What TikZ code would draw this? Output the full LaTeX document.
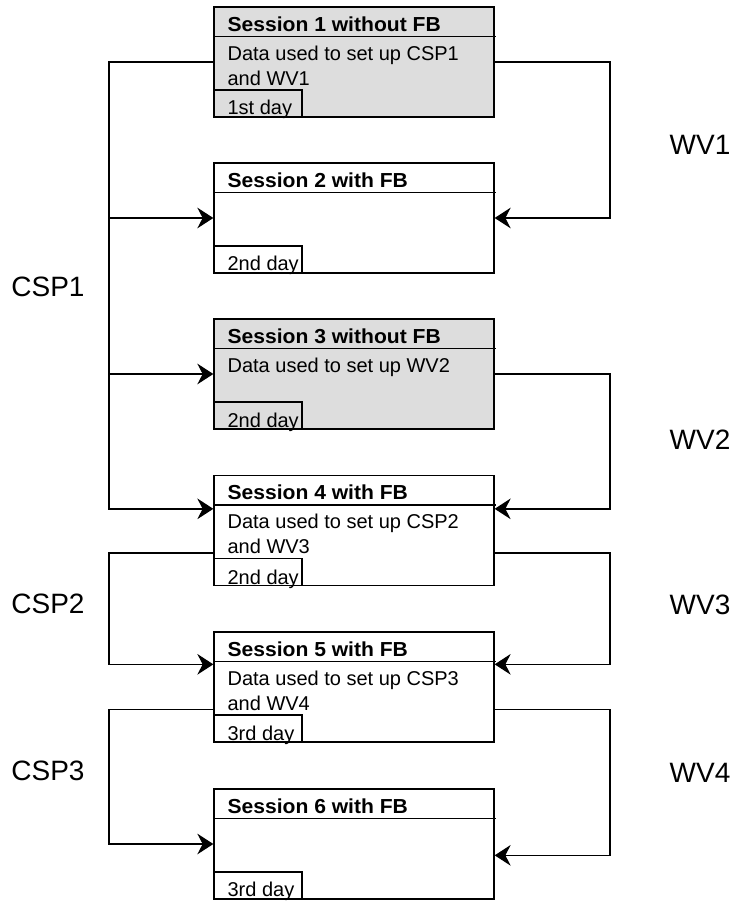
\documentclass[tikz,border=0pt]{standalone}
\usepackage{fontspec}
\setmainfont{Liberation Sans}
\usepackage{xcolor}
\usepackage{tikz}
\usetikzlibrary{arrows.meta}

\definecolor{sessgray}{RGB}{221,221,221}

\tikzset{
    sess/.style={draw=black, line width=1pt, minimum width=210pt, minimum height=82.5pt},
    txt/.style={inner sep=0pt, anchor=base west, font=\fontsize{15}{18.75}\selectfont, align=left},
    ttl/.style={txt, font=\fontsize{15.2}{18.75}\selectfont\bfseries\addfontfeature{FakeStretch=1.04}},
    daybox/.style={draw=black, line width=1pt, anchor=south west, inner sep=0pt,
        minimum width=66pt, minimum height=20.25pt},
    lbl/.style={font=\fontsize{21}{25}\selectfont},
    conn/.style={line width=1pt, -{Stealth[length=12pt, width=15.5pt, inset=4pt]}},
}

\begin{document}
\begin{tikzpicture}[x=0.75pt, y=-0.75pt]
    \useasboundingbox (0,0) rectangle (739,902);

    % sessions
    \node[sess, fill=sessgray] (s1) at (354,62) {};
    \node[sess] (s2) at (354,218) {};
    \node[sess, fill=sessgray] (s3) at (354,374) {};
    \node[sess] (s4) at (354,530.5) {};
    \node[sess] (s5) at (354,687) {};
    \node[sess] (s6) at (354,844) {};

    \node[ttl] (t1) at ([shift={(14,25)}]s1.north west) {Session 1 without FB};
    \node[ttl] (t2) at ([shift={(14,25)}]s2.north west) {Session 2 with FB};
    \node[ttl] (t3) at ([shift={(14,25)}]s3.north west) {Session 3 without FB};
    \node[ttl] (t4) at ([shift={(14,25)}]s4.north west) {Session 4 with FB};
    \node[ttl] (t5) at ([shift={(14,25)}]s5.north west) {Session 5 with FB};
    \node[ttl] (t6) at ([shift={(14,25)}]s6.north west) {Session 6 with FB};

    \draw[line width=1pt] ([shift={(0,30)}]s1.north west) -- ++(283,0);
    \draw[line width=1pt] ([shift={(0,30)}]s2.north west) -- ++(283,0);
    \draw[line width=1pt] ([shift={(0,30)}]s3.north west) -- ++(283,0);
    \draw[line width=1pt] ([shift={(0,30)}]s4.north west) -- ++(283,0);
    \draw[line width=1pt] ([shift={(0,30)}]s5.north west) -- ++(283,0);
    \draw[line width=1pt] ([shift={(0,30)}]s6.north west) -- ++(283,0);

    % base of the last line
    \node[txt] (b1) at ([shift={(14,79)}]s1.north west) {Data used to set up CSP1\\and WV1};
    \node[txt] (b3) at ([shift={(14,54)}]s3.north west) {Data used to set up WV2};
    \node[txt] (b4) at ([shift={(14,79)}]s4.north west) {Data used to set up CSP2\\and WV3};
    \node[txt] (b5) at ([shift={(14,79)}]s5.north west) {Data used to set up CSP3\\and WV4};

    \node[daybox] (d1) at (s1.south west) {};
    \node[daybox] (d2) at (s2.south west) {};
    \node[daybox] (d3) at (s3.south west) {};
    \node[daybox] (d4) at (s4.south west) {};
    \node[daybox] (d5) at (s5.south west) {};
    \node[daybox] (d6) at (s6.south west) {};
    \node[txt] (dt1) at ([shift={(14,-3)}]d1.south west) {1st day};
    \node[txt] (dt2) at ([shift={(14,-3)}]d2.south west) {2nd day};
    \node[txt] (dt3) at ([shift={(14,-2)}]d3.south west) {2nd day};
    \node[txt] (dt4) at ([shift={(14,-2)}]d4.south west) {2nd day};
    \node[txt] (dt5) at ([shift={(14,-2)}]d5.south west) {3rd day};
    \node[txt] (dt6) at ([shift={(14,-3)}]d6.south west) {3rd day};

    % connectors
    \coordinate (lft) at (109,0);
    \coordinate (rgt) at (610,0);
    \coordinate (in4w) at ([shift={(0,34)}]s4.north west);
    \coordinate (in4e) at ([shift={(0,34)}]s4.north east);
    \coordinate (out4w) at ([shift={(0,78)}]s4.north west);
    \coordinate (out4e) at ([shift={(0,78)}]s4.north east);
    \coordinate (in5w) at ([shift={(0,33)}]s5.north west);
    \coordinate (in5e) at ([shift={(0,33)}]s5.north east);
    \coordinate (out5w) at ([shift={(0,78)}]s5.north west);
    \coordinate (out5e) at ([shift={(0,78)}]s5.north east);
    \coordinate (in6e) at ([shift={(0,67)}]s6.north east);

    \draw[conn] (s1.west) -- (s1.west -| lft) |- (in4w);
    \draw[conn] (s2.west -| lft) -- (s2.west);
    \draw[conn] (s3.west -| lft) -- (s3.west);
    \draw[conn] (out4w) -- (out4w -| lft) |- (in5w);
    \draw[conn] (out5w) -- (out5w -| lft) |- (s6.west);

    \draw[conn] (s1.east) -- (s1.east -| rgt) |- (s2.east);
    \draw[conn] (s3.east) -- (s3.east -| rgt) |- (in4e);
    \draw[conn] (out4e) -- (out4e -| rgt) |- (in5e);
    \draw[conn] (out5e) -- (out5e -| rgt) |- (in6e);

    \node[lbl] (csp1) at (48,287) {CSP1};
    \node[lbl] (csp2) at (48,604) {CSP2};
    \node[lbl] (csp3) at (48,771) {CSP3};
    \node[lbl] (wv1) at (700,145) {WV1};
    \node[lbl] (wv2) at (700,440) {WV2};
    \node[lbl] (wv3) at (700,605) {WV3};
    \node[lbl] (wv4) at (700,773) {WV4};
\end{tikzpicture}
\end{document}
